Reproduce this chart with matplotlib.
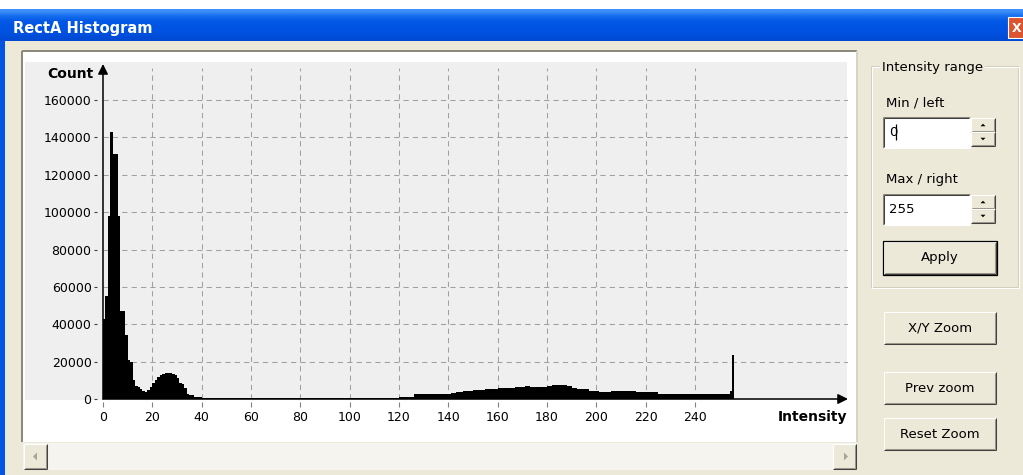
import matplotlib
matplotlib.use("Agg")
import matplotlib.pyplot as plt
import numpy as np
from matplotlib.patches import Rectangle, Polygon

W, H = 1023, 475
FACE = "#ECE9D8"
plt.rcParams["font.family"] = ["DejaVu Sans"]

# pixel counts per intensity bin (0..255)
counts = [
    43000, 55000, 98000, 143000, 131000, 131000, 98000, 47000, 47000, 34000, 21000, 20000, 10000, 6800, 6400, 5200,
    4100, 3900, 5000, 6600, 8400, 10200, 12000, 12600, 13500, 13800, 13800, 13800, 13600, 12900, 11000, 8800,
    8200, 5700, 2800, 2200, 2000, 1300, 1200, 1000, 800, 800, 800, 800, 800, 800, 800, 800,
    800, 800, 800, 800, 800, 800, 800, 800, 800, 800, 800, 800, 800, 800, 800, 800,
    800, 800, 800, 800, 800, 800, 800, 800, 800, 800, 800, 800, 800, 800, 800, 800,
    800, 800, 800, 800, 800, 800, 800, 800, 800, 800, 800, 800, 800, 800, 800, 800,
    800, 800, 800, 800, 800, 800, 800, 800, 800, 800, 800, 800, 800, 800, 800, 800,
    800, 800, 800, 800, 800, 800, 800, 800, 1100, 1100, 1100, 1100, 1100, 1100, 2500, 2500,
    2500, 2500, 2500, 2500, 2500, 2500, 2500, 2500, 2500, 2500, 2500, 2500, 2500, 3000, 3000, 3600,
    3600, 3600, 4300, 4300, 4300, 4300, 4800, 4800, 4800, 4800, 4800, 5300, 5300, 5300, 5300, 5300,
    5700, 5700, 5700, 5700, 5700, 5700, 5700, 6200, 6200, 6200, 6200, 7000, 7000, 6300, 6300, 6300,
    6300, 6300, 6300, 6300, 7000, 7000, 7500, 7500, 7500, 7500, 7500, 7500, 7000, 7000, 5800, 5800,
    5200, 5200, 5200, 5200, 5200, 4500, 4500, 4500, 4500, 3900, 3900, 3900, 3900, 3900, 4100, 4100,
    4100, 4100, 4100, 4100, 4100, 4100, 4100, 4100, 3500, 3500, 3500, 3500, 3500, 3500, 3500, 3500,
    3500, 2700, 2700, 2700, 2700, 2700, 2700, 2700, 2700, 2700, 2700, 2700, 2700, 2700, 2700, 2700,
    2700, 2700, 2700, 2700, 2700, 2700, 2700, 2700, 2700, 2700, 2700, 2700, 2700, 2700, 4400, 23500,
]
intensity = list(range(len(counts)))
x_ticks = [0, 20, 40, 60, 80, 100, 120, 140, 160, 180, 200, 220, 240]
y_ticks = [0, 20000, 40000, 60000, 80000, 100000, 120000, 140000, 160000]

title = "RectA Histogram"
x_label = "Intensity"
y_label = "Count"
group_label = "Intensity range"
field_labels = ["Min / left", "Max / right"]
field_values = ["0", "255"]
buttons = ["Apply", "X/Y Zoom", "Prev zoom", "Reset Zoom"]

fig = plt.figure(figsize=(W / 100, H / 100), dpi=100)
fig.patch.set_facecolor("white")

# background layer in screen pixels
bg = fig.add_axes([0, 0, 1, 1])
bg.set_xlim(0, W)
bg.set_ylim(H, 0)
bg.axis("off")


def line(x0, y0, x1, y1, c, lw=0.75, z=6):
    bg.plot([x0, x1], [y0, y1], color=c, lw=lw, solid_capstyle="butt", zorder=z)


def raised(x, y, w, h, default=False):
    bg.add_patch(Rectangle((x, y), w, h, facecolor=FACE, edgecolor="none", zorder=5))
    line(x, y, x + w, y, "white")
    line(x, y, x, y + h, "white")
    line(x, y + h, x + w, y + h, "#404040")
    line(x + w, y, x + w, y + h, "#404040")
    line(x + 1, y + h - 1, x + w - 1, y + h - 1, "#9A978A")
    line(x + w - 1, y + 1, x + w - 1, y + h - 1, "#9A978A")
    if default:
        bg.add_patch(Rectangle((x - 1, y - 1), w + 2, h + 2, facecolor="none",
                               edgecolor="black", lw=0.9, zorder=6))


def sunken(x, y, w, h, face="white"):
    bg.add_patch(Rectangle((x, y), w, h, facecolor=face, edgecolor="none", zorder=5))
    line(x, y, x + w, y, "#8A877A")
    line(x, y, x, y + h, "#8A877A")
    line(x + 1, y + 1, x + w - 1, y + 1, "#404040")
    line(x + 1, y + 1, x + 1, y + h - 1, "#404040")
    line(x, y + h, x + w, y + h, "white")
    line(x + w, y, x + w, y + h, "white")


def tri(cx, cy, s, up=True, c="black"):
    d = -s if up else s
    bg.add_patch(Polygon([(cx - s, cy - d / 2), (cx + s, cy - d / 2), (cx, cy + d / 2)],
                         closed=True, facecolor=c, edgecolor="none", zorder=7))


# window frame + title bar
bg.add_patch(Rectangle((0, 9), W, H - 9, facecolor="#0055E5", edgecolor="none"))
grad = np.array([[0x3D, 0x8E, 0xF8], [0x16, 0x6E, 0xEE], [0x05, 0x5B, 0xE6],
                 [0x00, 0x55, 0xE5], [0x00, 0x53, 0xE2], [0x00, 0x50, 0xDD],
                 [0x00, 0x4A, 0xD4]]) / 255.0
bg.imshow(grad[:, None, :], extent=(0, W, 41, 9), aspect="auto", interpolation="bilinear",
          zorder=1)
bg.text(13, 28, title, color="white", fontsize=10.5, fontweight="bold", va="center",
        ha="left", zorder=3)
bg.add_patch(Rectangle((1008, 17), 22, 21, facecolor="#DA5530", edgecolor="white", lw=0.8,
                       zorder=3))
bg.text(1017, 28, "X", color="white", fontsize=9, fontweight="bold", va="center", ha="center",
        zorder=4)

# dialog body
bg.add_patch(Rectangle((5, 41), W - 5, H - 41, facecolor=FACE, edgecolor="none", zorder=2))

# plot panel
bg.add_patch(Rectangle((23, 51), 834, 391, facecolor="white", edgecolor="none", zorder=3))
line(22, 51, 857, 51, "#8A877A", lw=1.4, z=4)
line(22, 51, 22, 442, "#8A877A", lw=1.4, z=4)
line(857, 51, 857, 442, "#D8D4C4", lw=1.4, z=4)
bg.add_patch(Rectangle((25, 62), 822, 338, facecolor="#EFEFEF", edgecolor="none", zorder=3))

# scrollbar
bg.add_patch(Rectangle((23, 443), 834, 27, facecolor="#F5F4EF", edgecolor="none", zorder=3))
raised(24, 444, 23, 25)
raised(833, 444, 23, 25)
bg.add_patch(Polygon([(33, 456.5), (37, 452.5), (37, 460.5)], facecolor="#A8A598",
                     edgecolor="none", zorder=7))
bg.add_patch(Polygon([(848, 456.5), (844, 452.5), (844, 460.5)], facecolor="#A8A598",
                     edgecolor="none", zorder=7))

# group box
gx0, gy0, gx1, gy1 = 871, 66, 1018, 287
for off, c in [(0, "#D0D0BF"), (1, "white")]:
    line(gx0 + off, gy0 + off, gx1 + off, gy0 + off, c, z=4)
    line(gx0 + off, gy0 + off, gx0 + off, gy1 + off, c, z=4)
    line(gx0 + off, gy1 + off, gx1 + off, gy1 + off, c, z=4)
    line(gx1 + off, gy0 + off, gx1 + off, gy1 + off, c, z=4)
bg.text(882, 67, group_label, fontsize=9.5, va="center", ha="left", zorder=8,
        bbox=dict(facecolor=FACE, edgecolor="none", pad=1.5))

for i, (lab, val) in enumerate(zip(field_labels, field_values)):
    ty = 117 + i * 77
    bg.text(886, ty - 14, lab, fontsize=9.5, va="center", ha="left", zorder=8)
    sunken(883, ty, 87, 31)
    bg.text(889, ty + 15.5, val, fontsize=9.5, va="center", ha="left", zorder=8)
    raised(971, ty + 1, 24, 14)
    raised(971, ty + 15, 24, 14)
    tri(983, ty + 8, 2.5, up=True)
    tri(983, ty + 22, 2.5, up=False)
line(896, 124, 896, 140, "black", lw=0.9, z=8)

btn_y = [242, 312, 372, 418]
for i, (lab, by) in enumerate(zip(buttons, btn_y)):
    raised(884, by, 112, 32, default=(i == 0))
    bg.text(940, by + 16, lab, fontsize=9.5, va="center", ha="center", zorder=8)

# histogram axes: x=0 at px 103, 2.4667 px per intensity; y=0 at px 399, 299 px per 160000
px_per_x = 2.4667
px_per_y = 299 / 160000
ax = fig.add_axes([103 / W, (H - 399) / H, 745 / W, 335 / H])
ax.patch.set_visible(False)
ax.set_xlim(0, 745 / px_per_x)
ax.set_ylim(0, 335 / px_per_y)
for s in ax.spines.values():
    s.set_visible(False)
ax.spines["bottom"].set_position(("outward", 2.2))
ax.spines["left"].set_position(("outward", 4.3))

for v in y_ticks[1:]:
    ax.axhline(v, color="#A0A0A0", lw=0.75, ls=(0, (5, 4)), zorder=1)
for v in x_ticks[1:]:
    ax.axvline(v, ymin=0, ymax=0.988, color="#A0A0A0", lw=0.75, ls=(0, (5, 4)), zorder=1)

ax.bar(intensity, counts, width=1.0, align="edge", color="black", linewidth=0, zorder=3)

arrow = dict(arrowstyle="-|>,head_length=0.6,head_width=0.3", color="black", lw=1.1,
             shrinkA=0, shrinkB=0)
ax.annotate("", xy=(1, 0), xytext=(0, 0), xycoords="axes fraction", arrowprops=arrow,
            annotation_clip=False, zorder=4)
ax.annotate("", xy=(0, 1), xytext=(0, 0), xycoords="axes fraction", arrowprops=arrow,
            annotation_clip=False, zorder=4)

ax.set_xticks(x_ticks)
ax.set_yticks(y_ticks)
ax.set_xticklabels([str(v) for v in x_ticks])
ax.set_yticklabels([str(v) for v in y_ticks])
ax.tick_params(axis="x", length=3.6, width=0.8, color="#808080", pad=2.5, labelsize=9)
ax.tick_params(axis="y", length=2.4, width=0.8, color="#404040", pad=1.5, labelsize=9)

bg.text(94, 74, y_label, fontsize=10, fontweight="bold", va="center", ha="right", zorder=8)
bg.text(847, 417, x_label, fontsize=10, fontweight="bold", va="center", ha="right", zorder=8)

fig.savefig("out.png", dpi=100)
